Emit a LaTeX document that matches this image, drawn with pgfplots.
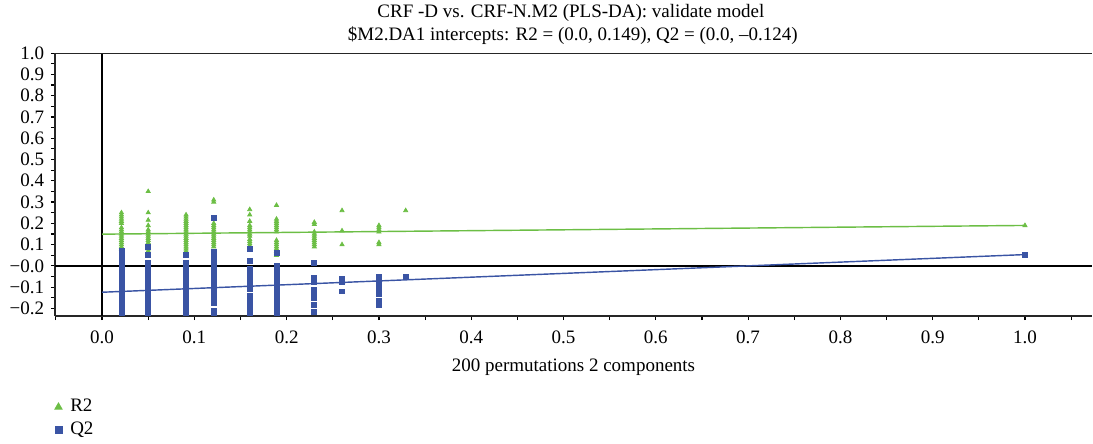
\documentclass[border=0pt]{standalone}
\usepackage{pgfplots}
\pgfplotsset{compat=1.18}
\usepackage{fontspec}
\setmainfont{Liberation Serif}
\definecolor{rtwo}{RGB}{108,190,69}
\definecolor{qtwo}{RGB}{58,84,164}
\begin{document}
\begin{tikzpicture}
\useasboundingbox (0,0) rectangle (575.3pt,233.2pt);
\node[font=\fontsize{10}{12}\selectfont] at (300.5pt,226.3pt) {CRF -D vs. CRF-N.M2 (PLS-DA): validate model};
\node[font=\fontsize{10}{12}\selectfont] at (301.5pt,214.7pt) {\$M2.DA1 intercepts: R2 = (0.0, 0.149), Q2 = (0.0, –0.124)};
\begin{axis}[
  at={(28.95pt,66.84pt)}, anchor=south west, scale only axis,
  width=545.8pt, height=138.4pt,
  xmin=-0.051, xmax=1.0726, ymin=-0.236, ymax=1.0,
  axis lines=left, axis line style={-, draw=black!85, line width=0.8pt},
  tick align=outside, major tick length=2.2pt, minor tick length=2.2pt,
  tick style={black, line width=0.6pt},
  /pgf/number format/assume math mode=true,
  xtick={0,0.1,0.2,0.3,0.4,0.5,0.6,0.7,0.8,0.9,1.0},
  xticklabels={0.0,0.1,0.2,0.3,0.4,0.5,0.6,0.7,0.8,0.9,1.0},
  minor xtick={-0.05,0.05,0.15,0.25,0.35,0.45,0.55,0.65,0.75,0.85,0.95,1.05},
  ytick={-0.2,-0.1,0,0.1,0.2,0.3,0.4,0.5,0.6,0.7,0.8,0.9,1.0},
  yticklabels={−0.2,−0.1,−0.0,0.1,0.2,0.3,0.4,0.5,0.6,0.7,0.8,0.9,1.0},
  minor ytick={-0.15,-0.05,0.05,0.15,0.25,0.35,0.45,0.55,0.65,0.75,0.85,0.95},
  ticklabel style={font=\fontsize{10}{12}\selectfont},
  xticklabel style={yshift=-2pt},
  xlabel={200 permutations 2 components},
  xlabel style={font=\fontsize{10}{12}\selectfont, yshift=-1pt},
  legend style={draw=none, fill=none, at={(-0.006,-0.29)}, anchor=north west,
    font=\fontsize{10}{12}\selectfont, row sep=1pt, column sep=2.8pt, nodes={inner sep=1.5pt}},
  legend cell align=left,
  clip=true,
]
\draw[black, line width=0.6pt] (axis cs:0,-0.236) -- (axis cs:0,1.0);
\draw[black, line width=0.7pt] (axis cs:-0.051,0) -- (axis cs:1.0726,0);
\draw[black!85, line width=0.8pt] (rel axis cs:0,1) -- (rel axis cs:1,1);
\addplot[only marks, mark=triangle*, mark size=1.25pt, color=rtwo, legend image post style={mark size=2.2pt}] coordinates {
(0.021,0.25)(0.021,0.24)(0.021,0.23)(0.021,0.22)(0.021,0.21)(0.021,0.20)(0.021,0.18)(0.021,0.17)(0.021,0.16)(0.021,0.15)(0.021,0.14)(0.021,0.13)(0.021,0.12)(0.021,0.11)(0.021,0.10)(0.021,0.09)(0.021,0.08)
(0.050,0.35)(0.050,0.25)(0.050,0.215)(0.050,0.19)(0.050,0.17)(0.050,0.16)(0.050,0.15)(0.050,0.14)(0.050,0.13)(0.050,0.12)(0.050,0.11)(0.050,0.10)(0.050,0.09)(0.050,0.08)(0.050,0.07)
(0.091,0.24)(0.091,0.23)(0.091,0.22)(0.091,0.21)(0.091,0.20)(0.091,0.19)(0.091,0.18)(0.091,0.17)(0.091,0.16)(0.091,0.15)(0.091,0.14)(0.091,0.13)(0.091,0.12)(0.091,0.11)(0.091,0.10)(0.091,0.09)(0.091,0.08)(0.091,0.07)
(0.121,0.31)(0.121,0.30)(0.121,0.20)(0.121,0.19)(0.121,0.18)(0.121,0.17)(0.121,0.16)(0.121,0.15)(0.121,0.14)(0.121,0.13)(0.121,0.12)(0.121,0.11)(0.121,0.10)(0.121,0.09)
(0.160,0.265)(0.160,0.24)(0.160,0.21)(0.160,0.19)(0.160,0.18)(0.160,0.17)(0.160,0.16)(0.160,0.15)(0.160,0.14)(0.160,0.125)(0.160,0.115)(0.160,0.105)(0.160,0.095)
(0.189,0.285)(0.189,0.22)(0.189,0.21)(0.189,0.20)(0.189,0.19)(0.189,0.18)(0.189,0.17)(0.189,0.16)(0.189,0.12)(0.189,0.11)(0.189,0.10)(0.189,0.09)(0.189,0.08)(0.189,0.07)(0.189,0.06)(0.189,0.05)
(0.230,0.205)(0.230,0.195)(0.230,0.16)(0.230,0.15)(0.230,0.14)(0.230,0.13)(0.230,0.12)(0.230,0.11)(0.230,0.10)(0.230,0.09)
(0.260,0.26)(0.260,0.165)(0.260,0.10)
(0.300,0.19)(0.300,0.18)(0.300,0.17)(0.300,0.16)(0.300,0.11)(0.300,0.10)
(0.329,0.26)
(1.0,0.19)
};
\addlegendentry{R2}
\addplot[only marks, mark=square*, mark size=1.3pt, color=qtwo, legend image post style={mark size=1.8pt}] coordinates {
(0.021,0.07)(0.021,0.06)(0.021,0.05)(0.021,0.04)(0.021,0.03)(0.021,0.02)(0.021,0.01)(0.021,0.00)(0.021,-0.005)(0.021,-0.03)(0.021,-0.055)(0.021,-0.058)(0.021,-0.085)(0.021,-0.095)(0.021,-0.105)(0.021,-0.115)(0.021,-0.125)(0.021,-0.135)(0.021,-0.145)(0.021,-0.155)(0.021,-0.165)(0.021,-0.195)(0.021,-0.205)(0.021,-0.215)(0.021,-0.22)
(0.050,0.09)(0.050,0.05)(0.050,0.015)(0.050,0.005)(0.050,-0.005)(0.050,-0.01)(0.050,-0.035)(0.050,-0.045)(0.050,-0.055)(0.050,-0.065)(0.050,-0.075)(0.050,-0.085)(0.050,-0.095)(0.050,-0.105)(0.050,-0.115)(0.050,-0.125)(0.050,-0.152)(0.050,-0.162)(0.050,-0.172)(0.050,-0.182)(0.050,-0.192)(0.050,-0.202)(0.050,-0.212)(0.050,-0.22)
(0.091,0.05)(0.091,0.015)(0.091,0.005)(0.091,-0.005)(0.091,-0.015)(0.091,-0.04)(0.091,-0.045)(0.091,-0.07)(0.091,-0.08)(0.091,-0.09)(0.091,-0.10)(0.091,-0.11)(0.091,-0.12)(0.091,-0.13)(0.091,-0.14)(0.091,-0.15)(0.091,-0.16)(0.091,-0.17)(0.091,-0.18)(0.091,-0.19)(0.091,-0.20)(0.091,-0.21)(0.091,-0.22)
(0.121,0.225)(0.121,0.065)(0.121,0.055)(0.121,0.045)(0.121,0.035)(0.121,0.025)(0.121,0.015)(0.121,0.005)(0.121,-0.005)(0.121,-0.015)(0.121,-0.022)(0.121,-0.05)(0.121,-0.058)(0.121,-0.082)(0.121,-0.092)(0.121,-0.102)(0.121,-0.112)(0.121,-0.122)(0.121,-0.132)(0.121,-0.142)(0.121,-0.152)(0.121,-0.162)(0.121,-0.172)(0.121,-0.212)(0.121,-0.22)
(0.160,0.08)(0.160,0.025)(0.160,-0.013)(0.160,-0.023)(0.160,-0.033)(0.160,-0.043)(0.160,-0.053)(0.160,-0.063)(0.160,-0.073)(0.160,-0.078)(0.160,-0.10)(0.160,-0.108)(0.160,-0.14)(0.160,-0.15)(0.160,-0.16)(0.160,-0.17)(0.160,-0.195)(0.160,-0.205)(0.160,-0.215)(0.160,-0.22)
(0.189,0.06)(0.189,0.0)(0.189,-0.007)(0.189,-0.03)(0.189,-0.04)(0.189,-0.05)(0.189,-0.06)(0.189,-0.07)(0.189,-0.093)(0.189,-0.103)(0.189,-0.113)(0.189,-0.123)(0.189,-0.133)(0.189,-0.143)(0.189,-0.153)(0.189,-0.163)(0.189,-0.173)(0.189,-0.183)(0.189,-0.193)(0.189,-0.203)(0.189,-0.213)(0.189,-0.22)
(0.230,0.015)(0.230,-0.055)(0.230,-0.065)(0.230,-0.075)(0.230,-0.115)(0.230,-0.125)(0.230,-0.135)(0.230,-0.145)(0.230,-0.153)(0.230,-0.185)(0.230,-0.215)
(0.260,-0.06)(0.260,-0.075)(0.260,-0.12)
(0.300,-0.05)(0.300,-0.06)(0.300,-0.08)(0.300,-0.09)(0.300,-0.10)(0.300,-0.11)(0.300,-0.12)(0.300,-0.13)(0.300,-0.165)(0.300,-0.185)
(0.329,-0.05)
(1.0,0.05)
};
\addlegendentry{Q2}
\addplot[rtwo, line width=0.75pt, forget plot] coordinates {(0,0.149)(1.0,0.19)};
\addplot[qtwo, line width=0.75pt, forget plot] coordinates {(0,-0.124)(1.0,0.053)};
\end{axis}
\end{tikzpicture}
\end{document}
